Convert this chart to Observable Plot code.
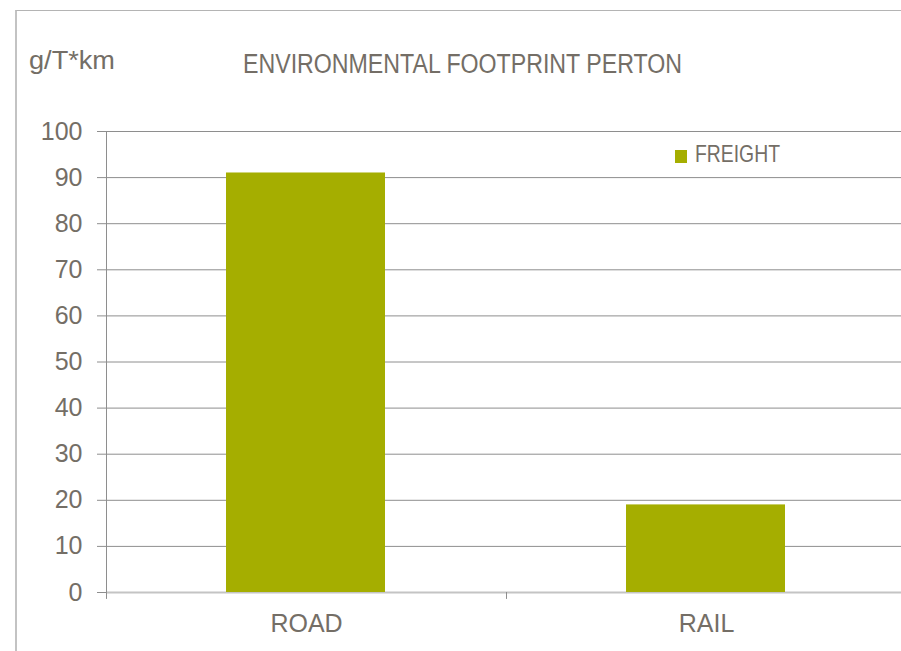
<!DOCTYPE html>
<html>
<head>
<meta charset="utf-8">
<script src="https://cdn.jsdelivr.net/npm/d3@7"></script>
<script src="https://cdn.jsdelivr.net/npm/@observablehq/plot@0.6"></script>
<style>
  html, body { margin: 0; padding: 0; background: #fff; }
  #wrap { position: relative; width: 901px; height: 651px; overflow: hidden; background: #fff;
          font-family: "Liberation Sans", Arial, sans-serif; }
  #frame { position: absolute; left: 15px; top: 10px; width: 900px; height: 700px;
           border-left: 2px solid #c3c3c3; border-top: 1px solid #b4b4b4; box-sizing: border-box; }
  #chart { position: absolute; left: 0; top: 0; width: 906px; }
  #chart svg { max-width: none !important; }
  #overlay { position: absolute; left: 0; top: 0; }
</style>
</head>
<body>
<div id="wrap">
  <div id="frame"></div>
  <div id="chart"></div>
  <svg id="overlay" width="901" height="651"></svg>
</div>
<script>
// ---- data ----
const categories = ["ROAD", "RAIL"];
const freight = [91, 19];
const yTicks = [0, 10, 20, 30, 40, 50, 60, 70, 80, 90, 100];
const titleText = "ENVIRONMENTAL FOOTPRINT PERTON";
const yLabel = "g/T*km";
const seriesName = "FREIGHT";

const textColor = "#746e66";
const barColor = "#a5ae00";
const gridColor = "#8e8e8e";

const data = categories.map((c, i) => ({mode: c, value: freight[i]}));

const W = 906, H = 651;
const mL = 106, mR = 0, mT = 131, mB = 59;
const bandHalf = (W - mL - mR) / categories.length / 2;

const chart = Plot.plot({
  width: W,
  height: H,
  marginLeft: mL,
  marginRight: mR,
  marginTop: mT,
  marginBottom: mB,
  style: {fontFamily: "'Liberation Sans', Arial, sans-serif", color: textColor, background: "transparent", overflow: "visible", maxWidth: "none"},
  x: {type: "band", domain: categories, padding: 0, axis: null},
  y: {domain: [0, 100], axis: null},
  marks: [
    Plot.gridY(yTicks.filter(v => v > 0), {stroke: gridColor, strokeOpacity: 1}),
    Plot.ruleY([0], {stroke: "#c4c4c4", strokeWidth: 2}),
    Plot.barY(data, {x: "mode", y: "value", fill: barColor, insetLeft: 120, insetRight: 121}),
    Plot.frame({anchor: "left", stroke: gridColor}),
    Plot.ruleX(categories, {x: d => d, y1: 0, y2: -1.5, dx: -bandHalf, stroke: gridColor}),
    Plot.axisY(yTicks, {tickSize: 9, tickPadding: 15, stroke: gridColor, fill: textColor, fontSize: 25, label: null}),
    Plot.axisX({tickSize: 0, tickPadding: 22, fill: textColor, fontSize: 25, label: null})
  ]
});
document.getElementById("chart").appendChild(chart);

// ---- overlay texts: title, y label, legend ----
const ov = d3.select("#overlay");
ov.append("text")
  .attr("x", 243).attr("y", 73)
  .attr("font-size", 27)
  .attr("fill", textColor)
  .attr("font-family", "'Liberation Sans', Arial, sans-serif")
  .attr("textLength", 439).attr("lengthAdjust", "spacingAndGlyphs")
  .text(titleText);
ov.append("text")
  .attr("x", 29).attr("y", 69)
  .attr("font-size", 25)
  .attr("fill", textColor)
  .attr("font-family", "'Liberation Sans', Arial, sans-serif")
  .attr("textLength", 86).attr("lengthAdjust", "spacingAndGlyphs")
  .text(yLabel);
ov.append("rect")
  .attr("x", 675).attr("y", 150).attr("width", 12).attr("height", 13)
  .attr("fill", barColor);
ov.append("text")
  .attr("x", 695).attr("y", 162)
  .attr("font-size", 24)
  .attr("fill", textColor)
  .attr("font-family", "'Liberation Sans', Arial, sans-serif")
  .attr("textLength", 85).attr("lengthAdjust", "spacingAndGlyphs")
  .text(seriesName);
</script>
</body>
</html>
